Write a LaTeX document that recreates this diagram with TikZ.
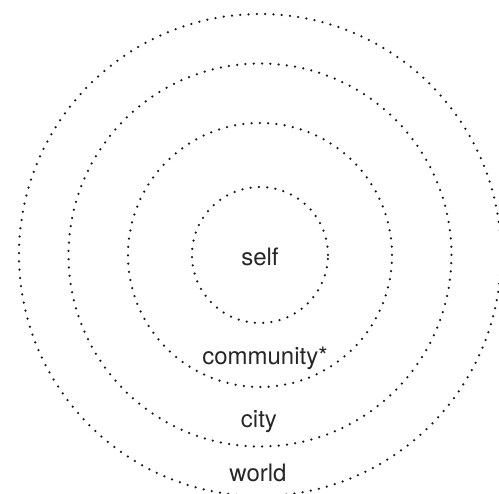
\documentclass[tikz,border=0pt]{standalone}
\usepackage{fontspec}
\setmainfont{TeX Gyre Heros}
\usepackage{tikz}

\begin{document}
\begin{tikzpicture}[x=1pt,y=1pt,
  ring/.style={line width=2.5pt,line cap=round,dash pattern=on 0pt off 8.3pt,color=black!90},
  lbl/.style={font=\fontsize{24}{28}\selectfont,text=black!85,inner sep=0pt}]
\useasboundingbox (-260,-239) rectangle (239,255);
\draw[ring] (0,0) circle (68);
\draw[ring] (0,0) circle (132);
\draw[ring] (0,0) circle (191.5);
\draw[ring] (0,0) circle (241);
\node[lbl] (self) at (0,-2) {self};
\node[lbl] (community) at (5,-103) {community*};
\node[lbl] (city) at (-1,-167) {city};
\node[lbl] (world) at (-2,-218) {world};
\end{tikzpicture}
\end{document}
